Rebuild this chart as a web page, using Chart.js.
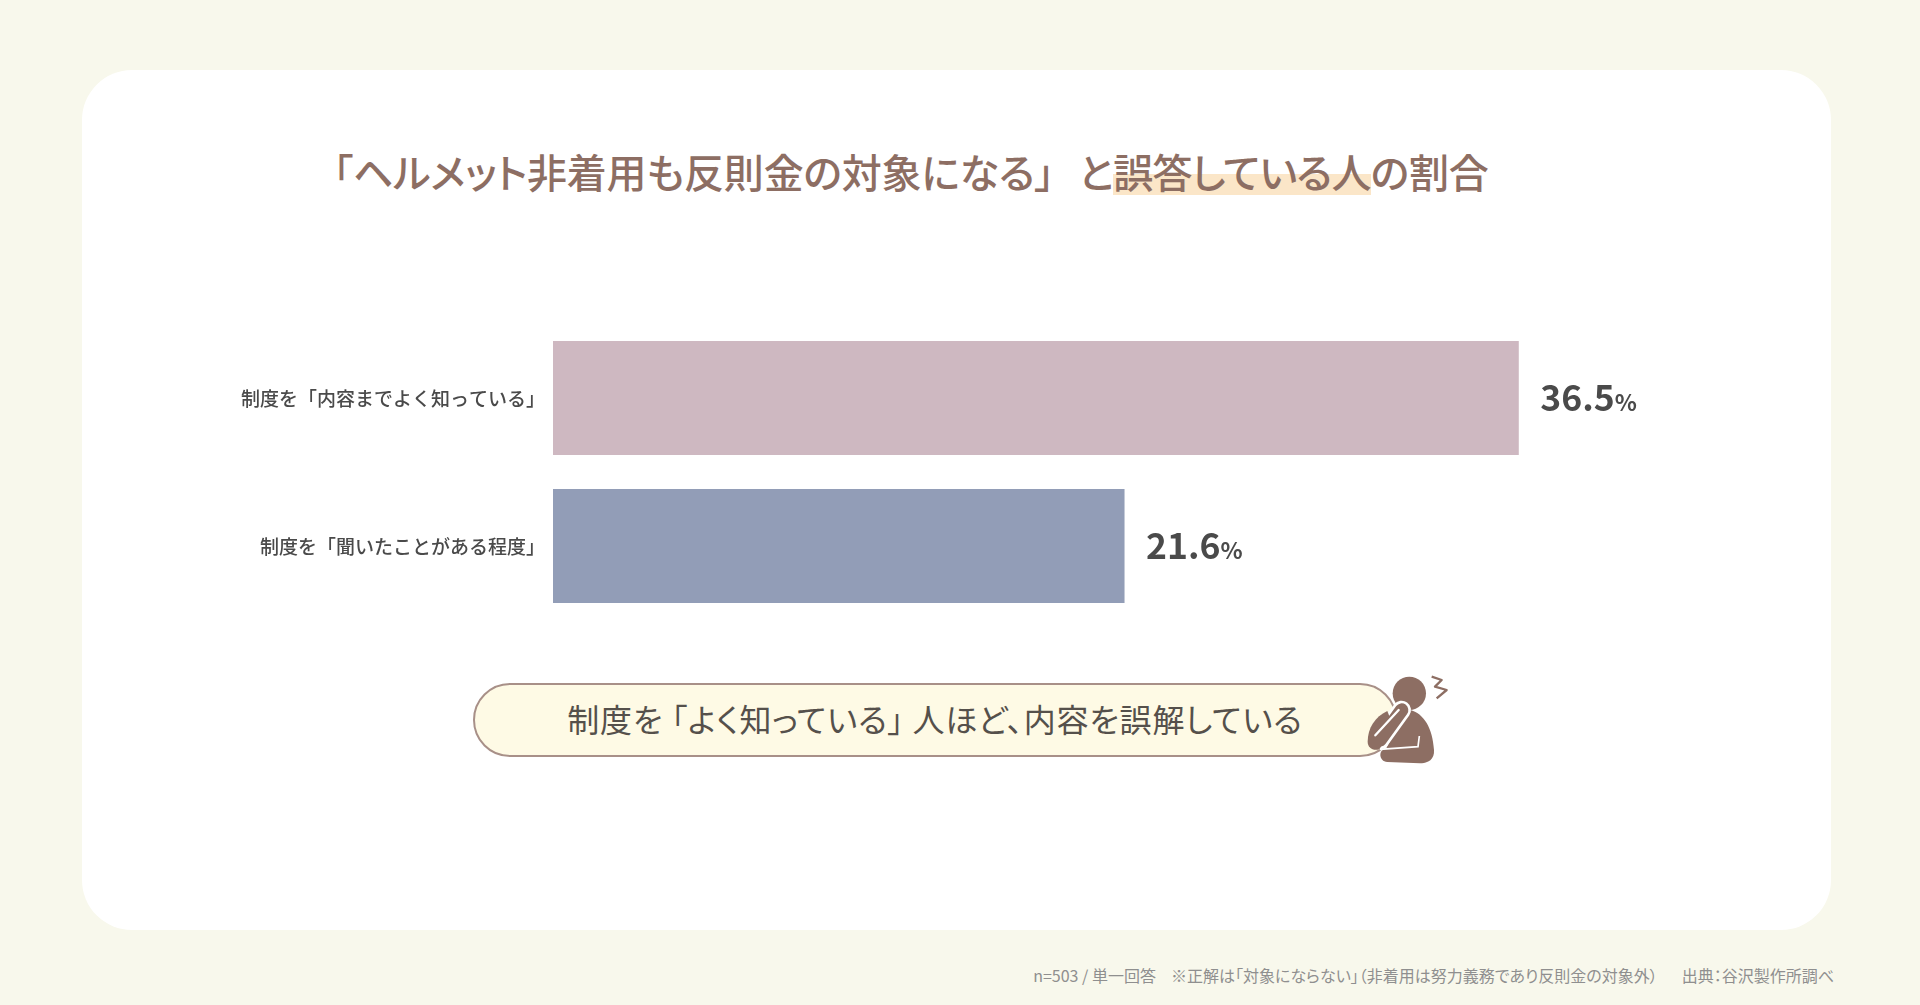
<!DOCTYPE html>
<html lang="ja">
<head>
<meta charset="utf-8">
<title>ヘルメット非着用 誤答の割合</title>
<script src="https://cdn.jsdelivr.net/npm/chart.js@4"></script>
<style>
  html, body { margin: 0; padding: 0; }
  body { position: relative; width: 1920px; height: 1005px; overflow: hidden; background: #f8f8ec;
         font-family: "Noto Sans CJK JP", "Noto Sans", sans-serif; }
  .card { position: absolute; left: 82px; top: 70px; width: 1749px; height: 860px; background: #fff; border-radius: 50px; }
  h1 { position: absolute; left: 333px; top: 142px; margin: 0; font-size: 40px; line-height: 58px;
       font-weight: 500; color: #8d6e63; font-feature-settings: "palt"; letter-spacing: -.2px; white-space: nowrap; }
  h1 .to { margin-left: 24px; }
  h1 em { font-style: normal; letter-spacing: -.8px; background: linear-gradient(transparent 55%, #fbe6c8 55%, #fbe6c8 92%, transparent 92%); }
  #wrap { position: absolute; left: 200px; top: 324px; width: 1500px; height: 296px; }
  .pill { position: absolute; left: 473px; top: 683px; width: 924px; height: 74px; box-sizing: border-box; border: 2px solid #a89088;
          border-radius: 37px; background: #fefae5; color: #55504b; font-size: 32px; line-height: 66px; text-align: center;
          font-feature-settings: "palt"; letter-spacing: .8px; white-space: nowrap; }
  #icon { position: absolute; left: 1300px; top: 660px; width: 180px; height: 120px; }
  .note { position: absolute; right: 86px; top: 963px; font-size: 16px; line-height: 24px; color: #8f8f8f; white-space: nowrap; font-feature-settings: "palt"; }
  .note .a { margin-left: 15px; }
  .note .b { margin-left: 24px; }
</style>
</head>
<body>
<div class="card"></div>
<h1>「ヘルメット非着用も反則金の対象になる」<span class="to">と</span><em>誤答している人</em>の割合</h1>
<div id="wrap"><canvas id="chart" width="1500" height="296"></canvas></div>
<div class="pill">制度を 「よく知っている」 人ほど、内容を誤解している</div>
<svg id="icon" viewBox="0 0 540 360" aria-hidden="true">
  <circle cx="328" cy="100" r="50" fill="#8d6e63"/>
  <path d="M330 150 C372 160 398 205 402 270 C404 298 385 310 360 310 L262 306 C236 304 234 268 258 266 L272 240 Z" fill="#8d6e63"/>
  <line x1="305" y1="150" x2="240" y2="240" stroke="#fff" stroke-width="56" stroke-linecap="round"/>
  <line x1="305" y1="150" x2="240" y2="240" stroke="#8d6e63" stroke-width="40" stroke-linecap="round"/>
  <path d="M262 153 C225 170 203 205 203 245 C203 262 218 274 238 268 L280 200 Z" fill="#8d6e63"/>
  <line x1="296" y1="150" x2="226" y2="226" stroke="#fff" stroke-width="7" stroke-linecap="round"/>
  <polyline points="240,268 354,260 358,228" fill="none" stroke="#fff" stroke-width="5"/>
  <polyline points="395,50 425,60 405,80 440,90 410,115" fill="none" stroke="#8d6e63" stroke-width="7" stroke-linejoin="round"/>
</svg>
<div class="note">n=503 / 単一回答<span class="a">※正解は「対象にならない」（非着用は努力義務であり反則金の対象外）</span><span class="b">出典：谷沢製作所調べ</span></div>

<script>
const categories = ["制度を「内容までよく知っている」", "制度を「聞いたことがある程度」"];
const values = [36.5, 21.6];
const barColors = ["#ceb8c1", "#929db7"];

// value labels, the number is bigger than the % sign
const valueLabels = {
  id: "valueLabels",
  afterDatasetsDraw(chart) {
    const { ctx } = chart;
    chart.getDatasetMeta(0).data.forEach((bar, i) => {
      const num = values[i].toFixed(1);
      ctx.save();
      ctx.fillStyle = "#4a4a4a";
      ctx.textAlign = "left";
      ctx.textBaseline = "alphabetic";
      ctx.font = '700 35.5px "Noto Sans CJK JP"';
      const x = bar.x + 21.5;
      const y = bar.y + 13;
      ctx.fillText(num, x, y);
      const w = ctx.measureText(num).width;
      ctx.font = '700 23px "Noto Sans CJK JP"';
      ctx.fillText("%", x + w, y);
      ctx.restore();
    });
  }
};

new Chart(document.getElementById("chart"), {
  type: "bar",
  data: {
    labels: categories,
    datasets: [{
      data: values,
      backgroundColor: barColors,
      borderWidth: 0,
      barPercentage: 1,
      categoryPercentage: 114 / 148
    }]
  },
  options: {
    indexAxis: "y",
    responsive: false,
    maintainAspectRatio: false,
    animation: false,
    layout: { padding: { right: 88.6 } },
    plugins: { legend: { display: false }, title: { display: false }, tooltip: { enabled: false } },
    scales: {
      x: { display: false, min: 0, max: 40 },
      y: {
        grid: { display: false },
        border: { display: false },
        ticks: {
          color: "#4a4a4a",
          padding: 0,
          labelOffset: 1,
          font: { family: '"Noto Sans CJK JP"', size: 19, weight: 500 }
        },
        afterFit(scale) {
          scale.width = 353;
          // no room for half a label above and below, bars use the full height
          scale.paddingTop = 0;
          scale.paddingBottom = 0;
        }
      }
    }
  },
  plugins: [valueLabels]
});
</script>
</body>
</html>
